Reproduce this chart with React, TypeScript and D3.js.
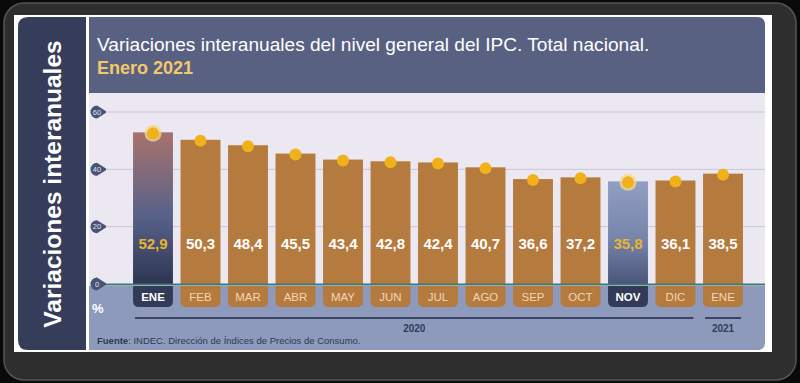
import React from "react";
import * as d3 from "d3";

const months = ["ENE", "FEB", "MAR", "ABR", "MAY", "JUN", "JUL", "AGO", "SEP", "OCT", "NOV", "DIC", "ENE"];
const values = [52.9, 50.3, 48.4, 45.5, 43.4, 42.8, 42.4, 40.7, 36.6, 37.2, 35.8, 36.1, 38.5];
const highlighted = [true, false, false, false, false, false, false, false, false, false, true, false, false];
const yTicks = [0, 20, 40, 60];
const years = [
  { label: "2020", from: 0, to: 11 },
  { label: "2021", from: 12, to: 12 },
];

const W = 800;
const H = 383;
const FONT = "'Liberation Sans', Arial, Helvetica, sans-serif";

export default function App() {
  const idx = months.map((_, i) => i);
  const x = d3.scaleBand<number>().domain(idx).range([109.3, 766.7]).paddingInner(0.16).paddingOuter(0.5);
  const y = d3.scaleLinear().domain([0, 60]).range([284, 112]);
  const bw = x.bandwidth();

  const plotL = 89, plotR = 765;
  const tabTop = 286, tabBot = 307, tabR = 6;
  const tabPath = (x0: number) => {
    const x1 = x0 + bw;
    return `M${x0},${tabTop} H${x1} V${tabBot - tabR} Q${x1},${tabBot} ${x1 - tabR},${tabBot} H${x0 + tabR} Q${x0},${tabBot} ${x0},${tabBot - tabR} Z`;
  };

  return (
    <div style={{ position: "fixed", left: 0, top: 0, width: W, height: H }}>
      <svg width={W} height={H} style={{ display: "block" }}>
        <defs>
          <linearGradient id="gEne" x1="0" y1="0" x2="0" y2="1">
            <stop offset="0%" stopColor="#a8726c" />
            <stop offset="55%" stopColor="#58628a" />
            <stop offset="100%" stopColor="#2e3552" />
          </linearGradient>
          <linearGradient id="gNov" x1="0" y1="0" x2="0" y2="1">
            <stop offset="0%" stopColor="#919ec2" />
            <stop offset="55%" stopColor="#7885ab" />
            <stop offset="100%" stopColor="#4b557a" />
          </linearGradient>
        </defs>
        {/* outer frame */}
        <rect x={0} y={0} width={W} height={H} fill="#0a0a0a" />
        <rect x={4} y={3} width={792} height={377} rx={20} fill="#2e2e2e" stroke="#555" strokeWidth={1.5} />
        <rect x={14} y={15} width={758} height={337} fill="#ffffff" />
        {/* left navy bar */}
        <path d="M18,27 Q18,17 28,17 H86 V350 H28 Q18,350 18,340 Z" fill="#363d5a" />
        <text
          transform="translate(61,184) rotate(-90)"
          textAnchor="middle"
          fontFamily={FONT}
          fontWeight="bold"
          fontSize={24.5}
          fill="#ffffff"
        >
          Variaciones interanuales
        </text>
        {/* title panel */}
        <path d={`M89,17 H757 Q765,17 765,25 V93 H89 Z`} fill="#586182" />
        <text x={97} y={51} fontFamily={FONT} fontSize={19.1} fill="#ffffff">
          Variaciones interanuales del nivel general del IPC. Total nacional.
        </text>
        <text x={97} y={74} fontFamily={FONT} fontSize={18} fontWeight="bold" fill="#f3c86a">
          Enero 2021
        </text>
        {/* plot area */}
        <rect x={plotL} y={93} width={plotR - plotL} height={193} fill="#ebe8f2" />
        {/* bottom strip */}
        <path d={`M${plotL},286 H${plotR} V342 Q${plotR},350 ${plotR - 8},350 H${plotL} Z`} fill="#8d9abb" />
        {/* grid */}
        {yTicks.filter((t) => t > 0).map((t) => (
          <line key={t} x1={100} x2={plotR} y1={y(t)} y2={y(t)} stroke="#c9c6d8" strokeWidth={1} />
        ))}
        {/* bars */}
        {values.map((v, i) => {
          const x0 = x(i)!;
          const fill = i === 0 ? "url(#gEne)" : i === 10 ? "url(#gNov)" : "#b57a3d";
          return <rect key={i} x={x0} y={y(v)} width={bw} height={y(0) - y(v)} fill={fill} />;
        })}
        {/* zero line */}
        <line x1={100} x2={plotR} y1={y(0) + 0.5} y2={y(0) + 0.5} stroke="#3f7872" strokeWidth={2} />
        {/* y tick bubbles */}
        {yTicks.map((t) => (
          <g key={t} transform={`translate(97,${y(t)})`}>
            <path d="M0,-6.5 A6.5,6.5 0 1,0 0,6.5 L9,0.8 L9,-0.8 Z" fill="#4a5275" />
            <text x={0} y={2.6} textAnchor="middle" fontFamily={FONT} fontSize={7.5} fill="#dfe2ee">
              {t}
            </text>
          </g>
        ))}
        {/* dots */}
        {values.map((v, i) => {
          const cx = x(i)! + bw / 2;
          return (
            <g key={i}>
              {highlighted[i] && <circle cx={cx} cy={y(v) + 1} r={8.5} fill="#f6d98c" opacity={0.75} />}
              <circle cx={cx} cy={y(v) + 1} r={6} fill="#f0b11b" />
            </g>
          );
        })}
        {/* value labels */}
        {values.map((v, i) => (
          <text
            key={i}
            x={x(i)! + bw / 2}
            y={249}
            textAnchor="middle"
            fontFamily={FONT}
            fontWeight="bold"
            fontSize={15}
            fill={highlighted[i] ? "#e9b42f" : "#ffffff"}
          >
            {v.toFixed(1).replace(".", ",")}
          </text>
        ))}
        {/* month tabs */}
        {months.map((m, i) => (
          <g key={i}>
            <path d={tabPath(x(i)!)} fill={highlighted[i] ? "#333a57" : "#b57a3d"} />
            <text
              x={x(i)! + bw / 2}
              y={301}
              textAnchor="middle"
              fontFamily={FONT}
              fontWeight={highlighted[i] ? "bold" : "normal"}
              fontSize={11.5}
              fill={highlighted[i] ? "#ffffff" : "#f2d6b6"}
            >
              {m}
            </text>
          </g>
        ))}
        <text x={92} y={313} fontFamily={FONT} fontWeight="bold" fontSize={13} fill="#ffffff">
          %
        </text>
        {/* year brackets */}
        {years.map((yr) => {
          const a = x(yr.from)! + 2;
          const b = x(yr.to)! + bw - 2;
          return (
            <g key={yr.label}>
              <line x1={a} x2={b} y1={318} y2={318} stroke="#3d4566" strokeWidth={2} />
              <text
                x={(a + b) / 2}
                y={332}
                textAnchor="middle"
                fontFamily={FONT}
                fontWeight="bold"
                fontSize={10}
                fill="#323a5a"
              >
                {yr.label}
              </text>
            </g>
          );
        })}
        <text x={97} y={344} fontFamily={FONT} fontSize={9.5} fill="#2f3755">
          <tspan fontWeight="bold">Fuente</tspan>: INDEC. Dirección de Índices de Precios de Consumo.
        </text>
      </svg>
    </div>
  );
}
